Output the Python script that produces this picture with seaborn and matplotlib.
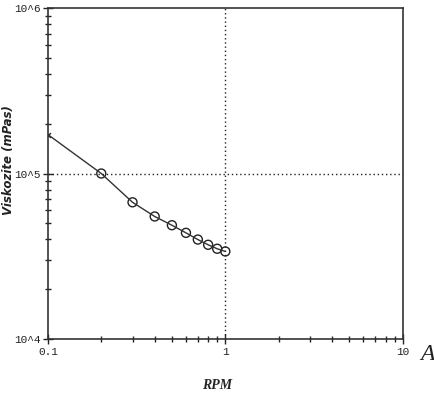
import numpy as np
import pandas as pd
import matplotlib
matplotlib.use("Agg")
import matplotlib.pyplot as plt
import matplotlib.ticker as mticker
import seaborn as sns

rpm = [0.1, 0.2, 0.3, 0.4, 0.5, 0.6, 0.7, 0.8, 0.9, 1.0]
viscosity = [172000, 100000, 67000, 55000, 48700, 43800, 39900, 37100, 35100, 33800]
x_ticks = [0.1, 1, 10]
x_tick_labels = ["0.1", "1", "10"]
y_ticks = [1e4, 1e5, 1e6]
y_tick_labels = ["10^4", "10^5", "10^6"]

df = pd.DataFrame({"RPM": rpm, "Viskozite": viscosity})

sns.set_style("white")
plt.rcParams["font.family"] = ["DejaVu Sans"]

fig = plt.figure(figsize=(4.35, 3.93), dpi=100)
ax = fig.add_axes([0.110, 0.1374, 0.816, 0.8422])

sns.lineplot(data=df, x="RPM", y="Viskozite", ax=ax, color="#333333", lw=1.0)
sns.scatterplot(data=df.iloc[1:], x="RPM", y="Viskozite", ax=ax, marker="o",
                s=42, facecolor="none", edgecolor="#222222", linewidth=1.0)
sns.scatterplot(data=df.iloc[:1], x="RPM", y="Viskozite", ax=ax, marker="x",
                s=12, color="#222222", linewidth=1.0)

ax.set_xscale("log")
ax.set_yscale("log")
ax.set_xlim(0.1, 10)
ax.set_ylim(1e4, 1e6)

ax.axhline(1e5, color="#222222", lw=1.0, ls=(0, (1, 2)))
ax.axvline(1, color="#222222", lw=1.0, ls=(0, (1, 2)))

ax.set_xticks(x_ticks)
ax.set_xticklabels(x_tick_labels)
ax.set_yticks(y_ticks)
ax.set_yticklabels(y_tick_labels)
ax.xaxis.set_minor_locator(mticker.LogLocator(base=10, subs=np.arange(2, 10)))
ax.yaxis.set_minor_locator(mticker.LogLocator(base=10, subs=np.arange(2, 10)))
ax.xaxis.set_minor_formatter(mticker.NullFormatter())
ax.yaxis.set_minor_formatter(mticker.NullFormatter())
ax.tick_params(which="both", bottom=True, left=True, top=False, right=False)
ax.tick_params(which="major", direction="inout", length=7, width=1.0,
               labelsize=8, pad=2, colors="#222222")
ax.tick_params(which="minor", direction="inout", length=4, width=1.0, colors="#222222")
for lbl in ax.get_xticklabels() + ax.get_yticklabels():
    lbl.set_family("Liberation Mono")

for side in ["left", "bottom", "top", "right"]:
    ax.spines[side].set_visible(True)
    ax.spines[side].set_color("#333333")
    ax.spines[side].set_linewidth(1.2)

ax.set_xlabel("RPM", fontsize=10, fontstyle="italic", fontweight="bold",
              family="Liberation Serif")
ax.xaxis.set_label_coords((217 - 48) / 355, -(379 - 339) / 331)
ax.set_ylabel("Viskozite (mPas)", fontsize=8.5, fontstyle="italic", fontweight="bold",
              family="DejaVu Sans", color="#222222")
ax.yaxis.set_label_coords(-(48 - 15) / 355, (339 - 160) / 331)

fig.text(420 / 435, 1 - 355 / 393, "A", fontsize=17, fontstyle="italic",
         family="Liberation Serif", va="center", ha="left", color="#222222")

fig.savefig("out.png", dpi=100, facecolor="white")
